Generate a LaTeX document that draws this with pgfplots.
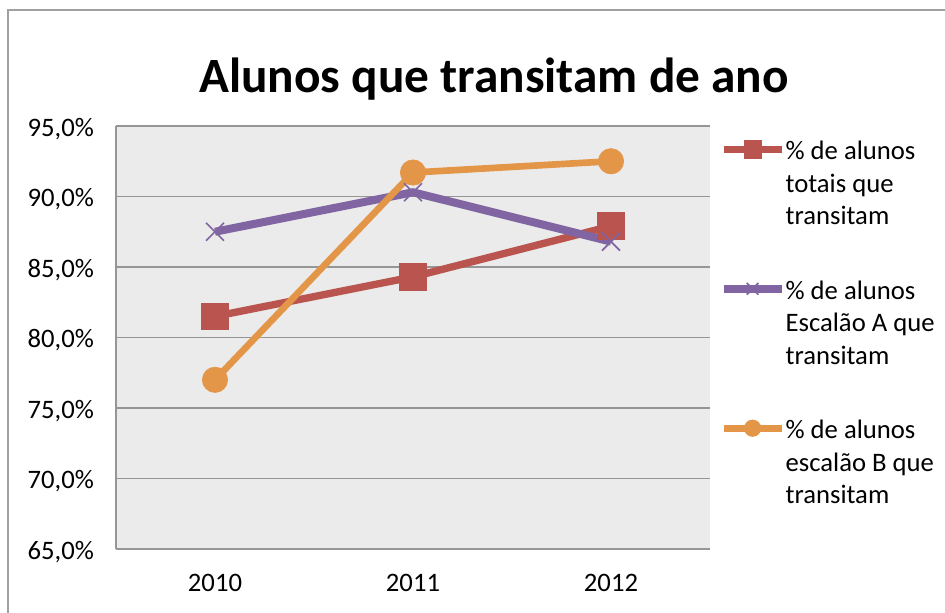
\documentclass[border=0pt]{standalone}
\usepackage{pgfplots}
\pgfplotsset{compat=1.18}
\usepackage{fontspec}
\setmainfont{Carlito}
\definecolor{cred}{RGB}{185,85,78}
\definecolor{cpurple}{RGB}{128,101,162}
\definecolor{corange}{RGB}{228,150,72}
\definecolor{plotbg}{RGB}{235,235,235}
\definecolor{gridc}{RGB}{150,150,150}
\definecolor{framec}{RGB}{160,160,160}
\newcommand{\lent}[3]{\begin{tabular}[t]{@{}l@{}}#1\\#2\\#3\end{tabular}}
\begin{document}
\begin{tikzpicture}
\useasboundingbox (-87pt,-47.25pt) rectangle (621.75pt,411.75pt);
\draw[framec, line width=1.2pt] (-81pt,-60pt) -- (-81pt,404.25pt) -- (640pt,404.25pt);
\node[anchor=base, font=\fontsize{37}{44}\selectfont\bfseries] at (283.5pt,342.75pt) {Alunos que transitam de ano};
\begin{axis}[
  at={(0,0)}, anchor=south west,
  scale only axis,
  width=445.5pt, height=317.25pt,
  xmin=-0.5, xmax=2.5,
  ymin=65, ymax=95,
  xtick={0,1,2},
  xticklabels={2010,2011,2012},
  ytick={65,70,75,80,85,90,95},
  yticklabel={\pgfmathprintnumber[fixed,fixed zerofill,precision=1,use comma]{\tick}\%},
  /pgf/number format/assume math mode=true,
  ticklabel style={font=\fontsize{20}{24}\selectfont},
  xticklabel style={yshift=-15pt},
  yticklabel style={xshift=-13pt, yshift=-2pt},
  major tick length=0pt,
  axis x line*=bottom,
  axis y line*=left,
  axis line style={gridc, line width=1pt, -},
  ymajorgrids,
  grid style={gridc, line width=1pt},
  axis background/.style={fill=plotbg},
  clip=false,
  legend cell align=left,
  legend style={draw=none, fill=none, at={(1,1)}, anchor=north west, xshift=4pt, yshift=-6pt,
    font=\fontsize{20}{24.4}\selectfont, row sep=86pt, column sep=0pt,
    nodes={inner sep=0pt}},
  legend image code/.code={\draw[mark repeat=2,mark phase=2, every mark/.append style={scale=0.65}] plot coordinates {(0pt,0pt) (21.75pt,0pt) (43.5pt,0pt)};},
]
\addplot[cred, line width=5.5pt, mark=square*, mark size=10pt, mark options={line width=0.5pt, solid, fill=cred}]
  coordinates {(0,81.5) (1,84.3) (2,87.9)};
\addlegendentry{\lent{\% de alunos}{totais que}{transitam}}
\addplot[cpurple, line width=6pt, mark=x, mark size=9.5pt, mark options={line width=1.2pt, solid}]
  coordinates {(0,87.5) (1,90.3) (2,86.8)};
\addlegendentry{\lent{\% de alunos}{Escalão A que}{transitam}}
\addplot[corange, line width=5pt, mark=*, mark size=9.5pt, mark options={line width=0.5pt, solid, fill=corange}]
  coordinates {(0,77.0) (1,91.7) (2,92.5)};
\addlegendentry{\lent{\% de alunos}{escalão B que}{transitam}}
\end{axis}
\end{tikzpicture}
\end{document}
